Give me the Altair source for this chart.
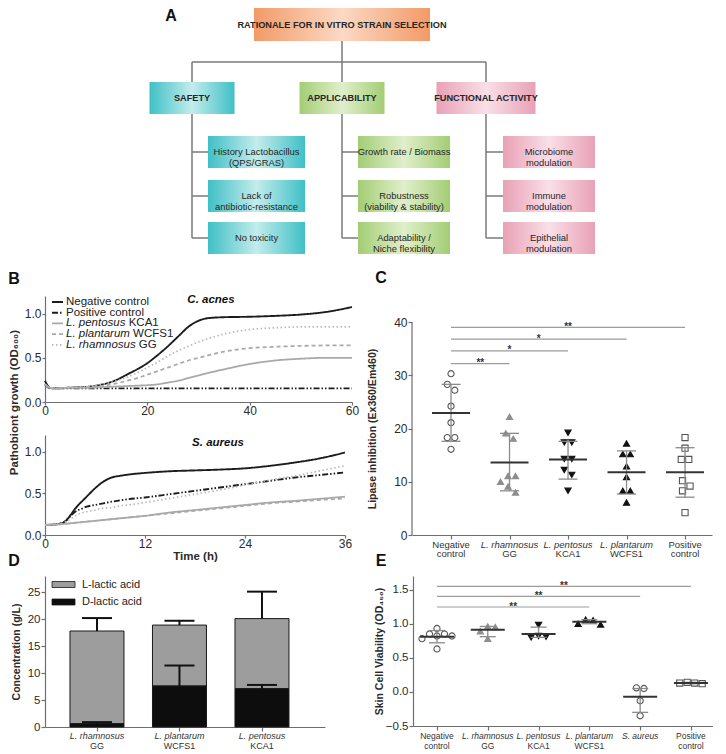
import altair as alt
import pandas as pd

FONT = "Liberation Sans, Arial, Helvetica, sans-serif"
NARROW = "Liberation Sans Narrow, Arial Narrow, Liberation Sans, sans-serif"
INK = "#2b2b2b"
AXC = "#6e6e6e"

# ===================== DATA =====================
# Panel A (flowchart)
A_ROOT = "RATIONALE FOR IN VITRO STRAIN SELECTION"
A_PILLARS = ["SAFETY", "APPLICABILITY", "FUNCTIONAL ACTIVITY"]
A_ITEMS = [
    ["History Lactobacillus\n(QPS/GRAS)", "Lack of\nantibiotic-resistance", "No toxicity"],
    ["Growth rate / Biomass", "Robustness\n(viability & stability)", "Adaptability /\nNiche flexibility"],
    ["Microbiome\nmodulation", "Immune\nmodulation", "Epithelial\nmodulation"],
]

# Panel B (growth curves)
B_SERIES = ["Negative control", "Positive control", "L. pentosus KCA1",
            "L. plantarum WCFS1", "L. rhamnosus GG"]
T_ACNES = [0, 1, 2, 4, 6, 8, 10, 12, 14, 16, 18, 20, 22, 24, 26, 28, 30, 32, 35, 40, 45, 50, 55, 60]
ACNES_NEG = [0.24, 0.16, 0.155, 0.16, 0.165, 0.17, 0.185, 0.21, 0.25, 0.31, 0.37, 0.44, 0.53, 0.63,
             0.74, 0.85, 0.92, 0.95, 0.96, 0.965, 0.975, 0.99, 1.02, 1.075]
ACNES_POS = [0.20, 0.155, 0.155, 0.155, 0.155, 0.155, 0.155, 0.155, 0.155, 0.155, 0.155, 0.155,
             0.155, 0.155, 0.155, 0.155, 0.155, 0.155, 0.155, 0.155, 0.155, 0.155, 0.155, 0.155]
ACNES_KCA1 = [0.20, 0.16, 0.155, 0.16, 0.16, 0.16, 0.165, 0.17, 0.175, 0.18, 0.185, 0.19, 0.20, 0.22,
              0.24, 0.27, 0.30, 0.33, 0.37, 0.43, 0.47, 0.49, 0.50, 0.50]
ACNES_WCFS1 = [0.20, 0.16, 0.155, 0.16, 0.165, 0.17, 0.18, 0.19, 0.21, 0.24, 0.27, 0.31, 0.35, 0.39,
               0.43, 0.47, 0.50, 0.53, 0.57, 0.61, 0.625, 0.635, 0.64, 0.64]
ACNES_GG = [0.20, 0.16, 0.155, 0.16, 0.165, 0.17, 0.19, 0.21, 0.24, 0.28, 0.33, 0.39, 0.45, 0.52,
            0.58, 0.63, 0.68, 0.72, 0.77, 0.82, 0.84, 0.85, 0.85, 0.85]

T_AUREUS = [0, 1, 2, 2.5, 3, 3.5, 4, 4.5, 5, 6, 7, 8, 9, 10, 12, 15, 18, 21, 24, 27, 30, 33, 36]
AUR_NEG = [0.12, 0.125, 0.14, 0.17, 0.23, 0.30, 0.36, 0.41, 0.46, 0.56, 0.64, 0.69, 0.71, 0.725,
           0.745, 0.765, 0.775, 0.785, 0.80, 0.83, 0.87, 0.92, 0.99]
AUR_POS = [0.12, 0.125, 0.14, 0.17, 0.22, 0.27, 0.30, 0.32, 0.34, 0.36, 0.38, 0.40, 0.415, 0.43,
           0.45, 0.49, 0.53, 0.57, 0.61, 0.65, 0.69, 0.72, 0.75]
AUR_KCA1 = [0.12, 0.125, 0.13, 0.135, 0.14, 0.145, 0.15, 0.155, 0.16, 0.17, 0.18, 0.19, 0.20, 0.21,
            0.23, 0.27, 0.30, 0.33, 0.36, 0.39, 0.41, 0.435, 0.46]
AUR_WCFS1 = [0.12, 0.125, 0.13, 0.135, 0.14, 0.145, 0.15, 0.155, 0.16, 0.17, 0.18, 0.19, 0.20, 0.21,
             0.23, 0.26, 0.29, 0.32, 0.35, 0.38, 0.40, 0.42, 0.44]
AUR_GG = [0.12, 0.125, 0.14, 0.16, 0.19, 0.22, 0.25, 0.27, 0.28, 0.30, 0.32, 0.33, 0.35, 0.36,
          0.39, 0.44, 0.49, 0.54, 0.60, 0.66, 0.71, 0.77, 0.83]

# Panel C (lipase inhibition)
C_GROUPS = ["Negative control", "L. rhamnosus GG", "L. pentosus KCA1", "L. plantarum WCFS1", "Positive control"]
C_VALUES = [
    [30.3, 28.3, 27.2, 24.2, 21.1, 18.3, 18.3, 16.1],
    [22.2, 19.1, 18.1, 11.1, 11.1, 10.0, 9.1, 8.0],
    [19.2, 17.4, 17.4, 14.3, 14.3, 12.2, 11.3, 8.3],
    [17.2, 15.2, 15.2, 12.9, 10.9, 8.3, 8.3, 6.1],
    [18.3, 16.3, 14.2, 14.2, 10.2, 9.2, 8.3, 4.2],
]
C_MEAN = [22.9, 13.6, 14.2, 11.8, 11.8]
C_LOW = [17.6, 8.3, 10.5, 7.7, 7.1]
C_HIGH = [28.3, 19.1, 17.6, 15.8, 16.4]
C_SIG_TO = [4, 3, 2, 1]
C_SIG_Y = [39.0, 36.8, 34.6, 32.2]
C_SIG_TXT = ["**", "*", "*", "**"]

# Panel D (lactic acid)
D_STRAINS = ["L. rhamnosus GG", "L. plantarum WCFS1", "L. pentosus KCA1"]
D_DLAC = [0.6, 7.6, 7.1]
D_DLAC_SD = [0.3, 3.8, 0.7]
D_LLAC = [17.2, 11.3, 13.0]
D_LLAC_SD = [2.4, 0.8, 5.0]
D_LEGEND = ["L-lactic acid", "D-lactic acid"]

# Panel E (skin cell viability)
E_GROUPS = ["Negative control", "L. rhamnosus GG", "L. pentosus KCA1", "L. plantarum WCFS1",
            "S. aureus", "Positive control"]
E_VALUES = [
    [0.93, 0.85, 0.85, 0.82, 0.82, 0.78, 0.63],
    [0.96, 0.95, 0.89, 0.78],
    [0.98, 0.82, 0.81, 0.80],
    [1.06, 1.05, 1.00, 0.99],
    [0.06, 0.05, -0.13, -0.35],
    [0.13, 0.12, 0.13, 0.14],
]
E_MEAN = [0.81, 0.91, 0.85, 1.03, -0.07, 0.13]
E_LOW = [0.72, 0.81, 0.80, 1.00, -0.30, 0.12]
E_HIGH = [0.90, 0.96, 0.95, 1.06, 0.05, 0.14]
E_SIG_TO = [5, 4, 3]
E_SIG_Y = [1.549, 1.40, 1.245]
E_SIG_TXT = ["**", "**", "**"]

# ===================== STYLES / HELPERS =====================
B_COLORS = ["#1c1c1c", "#1c1c1c", "#a9a9a9", "#a9a9a9", "#b8b8b8"]
B_DASH = [[1, 0], [6, 2, 1.5, 2, 1.5, 2], [1, 0], [4, 3], [1.5, 2.5]]
B_WIDTH = [1.9, 1.7, 1.6, 1.5, 1.5]

MARKERS = {
    "Negative control": ("circle", "white", "#555555"),
    "L. rhamnosus GG": ("triangle-up", "#8e8e8e", "#8e8e8e"),
    "L. pentosus KCA1": ("triangle-down", "#111111", "#111111"),
    "L. plantarum WCFS1": ("triangle-up", "#111111", "#111111"),
    "S. aureus": ("triangle-down", "white", "#555555"),
    "Positive control": ("square", "white", "#555555"),
}

HELV = {'L': 556, '.': 278, ' ': 278, 'p': 556, 'e': 556, 'n': 556, 't': 278, 'o': 556, 's': 500,
        'u': 556, 'l': 222, 'a': 556, 'r': 333, 'm': 833, 'h': 556}


def text_w(s, size):
    return sum(HELV.get(c, 556) for c in s) * size / 1000.0


def swarm_offsets(vals, ppy, ppx, d=7.5):
    n = len(vals)
    order = sorted(range(n), key=lambda i: -vals[i])
    placed, offs = [], [0.0] * n
    for i in order:
        y = vals[i] * ppy
        ox = 0.0
        for k in [0, 1, -1, 2, -2, 3, -3, 4, -4, 5, -5, 6, -6]:
            ox = k * d / 2
            if all((ox - px) ** 2 + (y - py) ** 2 >= d * d - 1e-6 for px, py in placed):
                break
        placed.append((ox, y))
        offs[i] = ox
    runs, cur = [], [order[0]]
    for a, b in zip(order, order[1:]):
        if (vals[a] - vals[b]) * ppy < d:
            cur.append(b)
        else:
            runs.append(cur)
            cur = [b]
    runs.append(cur)
    for r in runs:
        m = sum(offs[i] for i in r) / len(r)
        for i in r:
            offs[i] -= m
    return [o / ppx for o in offs]


def split_label(name):
    if name.endswith("control"):
        return name.split(" ")[0], "control", False
    parts = name.split(" ")
    return " ".join(parts[:2]), " ".join(parts[2:]), True


ONE = pd.DataFrame({"k": [0]})


def letter(ch, x, y):
    return alt.Chart(ONE).mark_text(text=ch, font=FONT, fontSize=16, fontWeight="bold", color="#111111",
                                    align="center", baseline="middle").encode(x=alt.value(x), y=alt.value(y))


def note(txt, x, y, size=11.5):
    return alt.Chart(ONE).mark_text(text=txt, font=FONT, fontSize=size, fontWeight="bold", fontStyle="italic",
                                    color="#111111", align="center", baseline="middle").encode(
        x=alt.value(x), y=alt.value(y))


# ===================== PANEL A =====================
WA, HA = 560, 248
ROOT_X, ROOT_Y = (209, 385), (0, 33)
PILLAR_CX, PILLAR_W, PILLAR_Y = [147, 297, 441], [85, 85, 99], (74, 106)
ITEM_X0, ITEM_W, ITEM_Y0, ITEM_H = [163, 313, 458], [97, 92, 92], [128, 172, 214], 32
BUS_Y = 54

nodes = [dict(grp="root", kind="head", label=A_ROOT, x=ROOT_X[0], x2=ROOT_X[1], y=ROOT_Y[0], y2=ROOT_Y[1])]
edges = [dict(x=(ROOT_X[0] + ROOT_X[1]) / 2, x2=(ROOT_X[0] + ROOT_X[1]) / 2, y=ROOT_Y[1], y2=BUS_Y),
         dict(x=PILLAR_CX[0], x2=PILLAR_CX[-1], y=BUS_Y, y2=BUS_Y)]
for k, name in enumerate(A_PILLARS):
    cx = PILLAR_CX[k]
    nodes.append(dict(grp=f"c{k}", kind="head", label=name, x=cx - PILLAR_W[k] / 2, x2=cx + PILLAR_W[k] / 2,
                      y=PILLAR_Y[0], y2=PILLAR_Y[1]))
    edges.append(dict(x=cx, x2=cx, y=BUS_Y, y2=PILLAR_Y[0]))
    edges.append(dict(x=cx, x2=cx, y=PILLAR_Y[1], y2=ITEM_Y0[-1] + ITEM_H / 2))
    for r, item in enumerate(A_ITEMS[k]):
        nodes.append(dict(grp=f"c{k}", kind="item", label=item, x=ITEM_X0[k], x2=ITEM_X0[k] + ITEM_W[k],
                          y=ITEM_Y0[r], y2=ITEM_Y0[r] + ITEM_H))
        edges.append(dict(x=cx, x2=ITEM_X0[k], y=ITEM_Y0[r] + ITEM_H / 2, y2=ITEM_Y0[r] + ITEM_H / 2))
nodes = pd.DataFrame(nodes)
nodes["cx"] = (nodes.x + nodes.x2) / 2
nodes["cy"] = (nodes.y + nodes.y2) / 2
edges = pd.DataFrame(edges)

xa = alt.Scale(domain=[0, WA], nice=False, zero=False)
ya = alt.Scale(domain=[0, HA], nice=False, zero=False, reverse=True)

FILLS = {"root": ("#f29a68", "#fcd9c4"), "c0": ("#3fc0c6", "#c3ecec"),
         "c1": ("#a3cd74", "#e0efcb"), "c2": ("#e8a1b6", "#fadfe8")}


def grad(edge, mid):
    return alt.Gradient(gradient="linear", x1=0, x2=1, y1=0, y2=0,
                        stops=[alt.GradientStop(color=edge, offset=0), alt.GradientStop(color=mid, offset=0.5),
                               alt.GradientStop(color=edge, offset=1)])


a_layers = [alt.Chart(edges).mark_rule(color="#7a7a7a", strokeWidth=1.5).encode(
    x=alt.X("x:Q", scale=xa, axis=None), x2="x2:Q", y=alt.Y("y:Q", scale=ya, axis=None), y2="y2:Q")]
for g, (e, m) in FILLS.items():
    a_layers.append(alt.Chart(nodes[nodes.grp == g]).mark_rect(fill=grad(e, m)).encode(
        x=alt.X("x:Q", scale=xa, axis=None), x2="x2:Q", y=alt.Y("y:Q", scale=ya, axis=None), y2="y2:Q"))
a_layers.append(alt.Chart(nodes[nodes.kind == "head"]).mark_text(
    font=NARROW, fontSize=9.2, fontWeight="bold", color="#262626", baseline="middle").encode(
    x=alt.X("cx:Q", scale=xa, axis=None), y=alt.Y("cy:Q", scale=ya, axis=None), text="label:N"))
a_layers.append(alt.Chart(nodes[nodes.kind == "item"]).mark_text(
    font=NARROW, fontSize=9.4, color="#262626", baseline="middle", lineBreak="\n", lineHeight=11).encode(
    x=alt.X("cx:Q", scale=xa, axis=None), y=alt.Y("cy:Q", scale=ya, axis=None), text="label:N"))
a_layers.append(letter("A", 126, 8))
chartA = alt.layer(*a_layers).properties(width=WA, height=HA)

# ===================== PANEL B =====================
def long_df(t, series_vals):
    rows = []
    for name, vals in zip(B_SERIES, series_vals):
        for ti, v in zip(t, vals):
            rows.append(dict(series=name, t=ti, v=v))
    return pd.DataFrame(rows)


acnes = long_df(T_ACNES, [ACNES_NEG, ACNES_POS, ACNES_KCA1, ACNES_WCFS1, ACNES_GG])
aureus = long_df(T_AUREUS, [AUR_NEG, AUR_POS, AUR_KCA1, AUR_WCFS1, AUR_GG])

b_color = alt.Color("series:N", scale=alt.Scale(domain=B_SERIES, range=B_COLORS), legend=None)
b_dash = alt.StrokeDash("series:N", scale=alt.Scale(domain=B_SERIES, range=B_DASH), legend=None)
b_width = alt.StrokeWidth("series:N", scale=alt.Scale(domain=B_SERIES, range=B_WIDTH), legend=None)

BW1, BH1, BW2, BH2 = 307, 106, 300, 100
yb1 = alt.Y("v:Q", scale=alt.Scale(domain=[0, 1.2], nice=False),
            axis=alt.Axis(values=[0, 0.5, 1.0], format=".1f", title="Pathobiont growth (OD₆₀₀)",
                          titleX=-31, titleY=106, titleBaseline="middle", titleFontSize=11.5,
                          tickSize=3, labelPadding=1))
xb1 = alt.X("t:Q", scale=alt.Scale(domain=[0, 60], nice=False),
            axis=alt.Axis(values=[0, 20, 40, 60], title=None, tickSize=3, labelPadding=0))
lines1 = alt.Chart(acnes).mark_line(interpolate="monotone").encode(
    x=xb1, y=yb1, color=b_color, strokeDash=b_dash, strokeWidth=b_width)

LEG_X0, LEG_X1, LEG_TX, LEG_Y0, LEG_DY, LEG_FS = 7, 18, 21, 6, 10.7, 11.5
leg = pd.DataFrame({"series": B_SERIES})
leg["ly"] = [LEG_Y0 + LEG_DY * i for i in range(len(B_SERIES))]
leg["ital"] = [" ".join(s.split(" ")[:2]) if s.startswith("L. ") else "" for s in B_SERIES]
leg["plain"] = [" ".join(s.split(" ")[2:]) if s.startswith("L. ") else s for s in B_SERIES]
leg["px"] = [LEG_TX + (text_w(it + " ", LEG_FS) if it else 0) for it in leg.ital]
leg_lines = alt.Chart(leg).mark_rule().encode(
    x=alt.value(LEG_X0), x2=alt.value(LEG_X1), y=alt.Y("ly:Q", scale=None),
    color=b_color, strokeDash=b_dash, strokeWidth=b_width)
leg_ital = alt.Chart(leg).mark_text(font=FONT, fontSize=LEG_FS, fontStyle="italic", color="#222222",
                                    align="left", baseline="middle").encode(
    x=alt.value(LEG_TX), y=alt.Y("ly:Q", scale=None), text="ital:N")
leg_plain = alt.Chart(leg).mark_text(font=FONT, fontSize=LEG_FS, color="#222222",
                                     align="left", baseline="middle").encode(
    x=alt.X("px:Q", scale=None), y=alt.Y("ly:Q", scale=None), text="plain:N")
chartB1 = alt.layer(lines1, leg_lines, leg_ital, leg_plain, note("C. acnes", 166, 4),
                    letter("B", -31, -17)).properties(width=BW1, height=BH1)

yb2 = alt.Y("v:Q", scale=alt.Scale(domain=[0, 1.2], nice=False),
            axis=alt.Axis(values=[0, 0.5, 1.0], format=".1f", title=None, tickSize=3, labelPadding=1))
xb2 = alt.X("t:Q", scale=alt.Scale(domain=[0, 36], nice=False),
            axis=alt.Axis(values=[0, 12, 24, 36], title="Time (h)", tickSize=3, labelPadding=0,
                          titlePadding=1, titleFontSize=11.5))
lines2 = alt.Chart(aureus).mark_line(interpolate="monotone").encode(
    x=xb2, y=yb2, color=b_color, strokeDash=b_dash, strokeWidth=b_width)
chartB2 = alt.layer(lines2, note("S. aureus", 173, 8)).properties(width=BW2, height=BH2)

colB = alt.vconcat(chartB1, chartB2, spacing=33, bounds="flush")


# ===================== DOT PANELS (C, E) =====================
def dot_panel(groups, values, means, lows, highs, sig_to, sig_y, sig_txt, W, H, xdom, ydom, yaxis,
              axis_top, lab_dy, mean_half_px, cap_half_px, letter_ch, letter_xy, lab_fs):
    n = len(groups)
    ppx = W / (xdom[1] - xdom[0])
    ppy = H / (ydom[1] - ydom[0])
    xs = alt.Scale(domain=xdom, nice=False, zero=False)
    ys = alt.Scale(domain=ydom, nice=False, zero=False)
    xax = alt.Axis(values=list(range(n)), labels=False, title=None, tickSize=4)

    def X(f):
        return alt.X(f"{f}:Q", scale=xs, axis=xax)

    def Y(f):
        return alt.Y(f"{f}:Q", scale=ys, axis=yaxis)

    rows = []
    for i, (g, vs) in enumerate(zip(groups, values)):
        for v, o in zip(vs, swarm_offsets(vs, ppy, ppx, 7.5)):
            rows.append(dict(g=g, v=v, xo=i + o))
    pts = pd.DataFrame(rows)
    summ = pd.DataFrame(dict(idx=list(range(n)), m=means, lo=lows, hi=highs))
    summ["ml"] = summ.idx - mean_half_px / ppx
    summ["mr"] = summ.idx + mean_half_px / ppx
    summ["cl"] = summ.idx - cap_half_px / ppx
    summ["cr"] = summ.idx + cap_half_px / ppx
    sig = pd.DataFrame(dict(x=[0] * len(sig_to), x2=sig_to, y=sig_y, s=sig_txt))
    sig["mx"] = (sig.x + sig.x2) / 2
    labs = pd.DataFrame([dict(idx=i, l1=split_label(g)[0], l2=split_label(g)[1], it=split_label(g)[2])
                         for i, g in enumerate(groups)])

    layers = []
    if axis_top is not None:
        layers.append(alt.Chart(pd.DataFrame({"a": [ydom[0]], "b": [axis_top]})).mark_rule(
            color=AXC, strokeWidth=1.2).encode(x=alt.value(0), y=Y("a"), y2="b:Q"))
    layers.append(alt.Chart(sig).mark_rule(color="#9c9c9c", strokeWidth=1.2).encode(x=X("x"), x2="x2:Q", y=Y("y")))
    layers.append(alt.Chart(sig).mark_text(font=FONT, fontSize=10, fontWeight="bold", color="#333333",
                                           baseline="alphabetic", dy=2.5).encode(x=X("mx"), y=Y("y"), text="s:N"))
    layers.append(alt.Chart(pts).mark_point(size=38, filled=True, opacity=1, strokeWidth=1.1).encode(
        x=X("xo"), y=Y("v"),
        shape=alt.Shape("g:N", scale=alt.Scale(domain=groups, range=[MARKERS[g][0] for g in groups]), legend=None),
        fill=alt.Fill("g:N", scale=alt.Scale(domain=groups, range=[MARKERS[g][1] for g in groups]), legend=None),
        stroke=alt.Stroke("g:N", scale=alt.Scale(domain=groups, range=[MARKERS[g][2] for g in groups]), legend=None)))
    layers.append(alt.Chart(summ).mark_rule(color="#8a8a8a", strokeWidth=1.3).encode(x=X("idx"), y=Y("lo"), y2="hi:Q"))
    layers.append(alt.Chart(summ).mark_rule(color="#8a8a8a", strokeWidth=1.3).encode(x=X("cl"), x2="cr:Q", y=Y("lo")))
    layers.append(alt.Chart(summ).mark_rule(color="#8a8a8a", strokeWidth=1.3).encode(x=X("cl"), x2="cr:Q", y=Y("hi")))
    layers.append(alt.Chart(summ).mark_rule(color="#333333", strokeWidth=2).encode(x=X("ml"), x2="mr:Q", y=Y("m")))
    for sub, style in [(labs[labs.it], "italic"), (labs[~labs.it], "normal")]:
        if len(sub):
            layers.append(alt.Chart(sub).mark_text(font=FONT, fontSize=lab_fs, fontStyle=style, color="#333333",
                                                   baseline="middle").encode(
                x=X("idx"), y=alt.value(H + lab_dy[0]), text="l1:N"))
    layers.append(alt.Chart(labs).mark_text(font=FONT, fontSize=lab_fs, color="#333333", baseline="middle").encode(
        x=X("idx"), y=alt.value(H + lab_dy[1]), text="l2:N"))
    layers.append(letter(letter_ch, *letter_xy))
    return alt.layer(*layers).properties(width=W, height=H)


CW, CH = 300, 239
c_yax = alt.Axis(values=[0, 10, 20, 30, 40], title="Lipase inhibition (Ex360/Em460)", domain=False,
                 titleX=-40, titleY=132.5, titleBaseline="middle", titleFontSize=10.5, tickSize=4, labelPadding=1)
chartC = dot_panel(C_GROUPS, C_VALUES, C_MEAN, C_LOW, C_HIGH, C_SIG_TO, C_SIG_Y, C_SIG_TXT,
                   CW, CH, [-0.667, 4.461], [0, 44.9], c_yax, 40, (9.5, 19), 19, 9.5, "C", (-31, -18), 9.5)

EW, EH = 300, 150
e_yax = alt.Axis(values=[-0.5, 0, 0.5, 1.0, 1.5], format=".1f", title="Skin Cell Viability (OD₄₅₀)",
                 titleX=-34, titleBaseline="middle", titleFontSize=10.5, labelFontSize=11.5,
                 tickSize=4, labelPadding=1)
chartE = dot_panel(E_GROUPS, E_VALUES, E_MEAN, E_LOW, E_HIGH, E_SIG_TO, E_SIG_Y, E_SIG_TXT,
                   EW, EH, [-0.472, 5.434], [-0.5, 1.7], e_yax, None, (9.5, 19.5), 17, 8, "E", (-32, -15), 8.5)

# ===================== PANEL D =====================
DW, DH = 280, 151
D_XDOM, D_YDOM = [-0.63, 2.764], [0, 28]
BAR_HALF_PX, CAP_HALF_PX = 27, 15
dppx = DW / (D_XDOM[1] - D_XDOM[0])
bars = pd.DataFrame(dict(idx=list(range(len(D_STRAINS))), d=D_DLAC, dsd=D_DLAC_SD, l=D_LLAC, lsd=D_LLAC_SD))
bars["zero"] = 0.0
bars["tot"] = bars.d + bars.l
bars["tot_err"] = bars.tot + bars.lsd
bars["d_err"] = bars.d + bars.dsd
bars["xl"] = bars.idx - BAR_HALF_PX / dppx
bars["xr"] = bars.idx + BAR_HALF_PX / dppx
bars["cl"] = bars.idx - CAP_HALF_PX / dppx
bars["cr"] = bars.idx + CAP_HALF_PX / dppx
dxs = alt.Scale(domain=D_XDOM, nice=False, zero=False)
dys = alt.Scale(domain=D_YDOM, nice=False, zero=False)
dxax = alt.Axis(values=[0, 1, 2], labels=False, title=None, tickSize=4)
dyax = alt.Axis(values=[0, 5, 10, 15, 20, 25], title="Concentration (g/L)", titleX=-28.5,
                titleBaseline="middle", titleFontSize=10.5, labelFontSize=11.5, tickSize=4, labelPadding=1)


def DX(f):
    return alt.X(f"{f}:Q", scale=dxs, axis=dxax)


def DY(f):
    return alt.Y(f"{f}:Q", scale=dys, axis=dyax)


L_FILL, D_FILL = "#9d9d9d", "#0d0d0d"
d_layers = [
    alt.Chart(bars).mark_rect(fill=L_FILL, stroke="#1a1a1a", strokeWidth=1).encode(
        x=DX("xl"), x2="xr:Q", y=DY("d"), y2="tot:Q"),
    alt.Chart(bars).mark_rect(fill=D_FILL, stroke="#1a1a1a", strokeWidth=1).encode(
        x=DX("xl"), x2="xr:Q", y=DY("zero"), y2="d:Q"),
    alt.Chart(bars).mark_rule(color="#111111", strokeWidth=2).encode(x=DX("idx"), y=DY("tot"), y2="tot_err:Q"),
    alt.Chart(bars).mark_rule(color="#111111", strokeWidth=2).encode(x=DX("cl"), x2="cr:Q", y=DY("tot_err")),
    alt.Chart(bars).mark_rule(color="#111111", strokeWidth=2).encode(x=DX("idx"), y=DY("d"), y2="d_err:Q"),
    alt.Chart(bars).mark_rule(color="#111111", strokeWidth=2).encode(x=DX("cl"), x2="cr:Q", y=DY("d_err")),
]
LEGD_X0, LEGD_X1, LEGD_TX, LEGD_Y0, LEGD_DY, LEGD_H = 7, 30, 37, 8.5, 17.5, 6
for i, (lab, col) in enumerate(zip(D_LEGEND, [L_FILL, D_FILL])):
    cy = LEGD_Y0 + i * LEGD_DY
    d_layers.append(alt.Chart(ONE).mark_rect(fill=col, stroke="#1a1a1a", strokeWidth=0.8).encode(
        x=alt.value(LEGD_X0), x2=alt.value(LEGD_X1), y=alt.value(cy - LEGD_H / 2), y2=alt.value(cy + LEGD_H / 2)))
    d_layers.append(alt.Chart(ONE).mark_text(text=lab, font=FONT, fontSize=11, color="#222222", align="left",
                                             baseline="middle").encode(x=alt.value(LEGD_TX), y=alt.value(cy)))
dlabs = pd.DataFrame([dict(idx=i, l1=split_label(s)[0], l2=split_label(s)[1]) for i, s in enumerate(D_STRAINS)])
d_layers.append(alt.Chart(dlabs).mark_text(font=FONT, fontSize=9, fontStyle="italic", color="#333333",
                                           baseline="middle").encode(x=DX("idx"), y=alt.value(DH + 9), text="l1:N"))
d_layers.append(alt.Chart(dlabs).mark_text(font=FONT, fontSize=9, color="#333333",
                                           baseline="middle").encode(x=DX("idx"), y=alt.value(DH + 18.5), text="l2:N"))
d_layers.append(letter("D", -31, -15))
chartD = alt.layer(*d_layers).properties(width=DW, height=DH)

# ===================== LAYOUT =====================
row2 = alt.hconcat(colB, chartC, spacing=7)
row3 = alt.hconcat(chartD, chartE, spacing=88, bounds="flush")
lower = alt.vconcat(row2, row3, spacing=-9)
chart = alt.vconcat(chartA, lower, spacing=14).properties(padding=0, background="white").configure_view(
    stroke=None).configure_axis(
    labelFont=FONT, titleFont=FONT, labelColor=INK, titleColor=INK, tickColor=AXC, domainColor=AXC,
    grid=False, labelFontSize=12, titleFontWeight="bold", domainWidth=1.2, tickWidth=1.2,
    labelFlush=False, labelOverlap=False)

chart.save("out.html", embed_options={"renderer": "svg", "actions": False})
